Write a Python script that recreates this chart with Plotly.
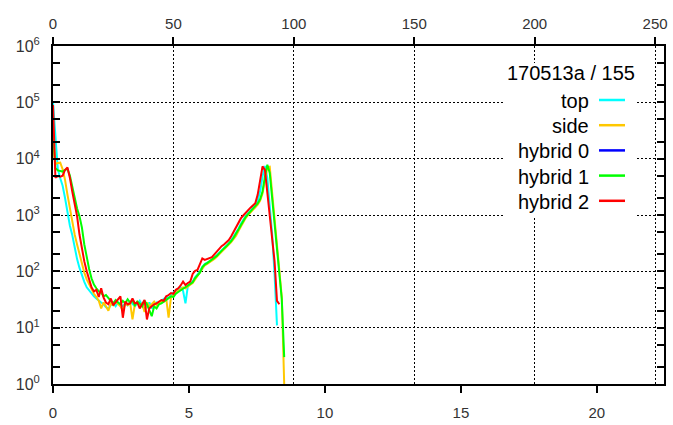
import plotly.graph_objects as go

# Channel-to-energy scale shared by the two x axes
ENERGY_PER_CHANNEL = 22.47 / 253.7
CHANNEL_MAX = 253.7

run_label = "170513a / 155"

series_names = ["top", "side", "hybrid 0", "hybrid 1", "hybrid 2"]
series_colors = ["#00FFFF", "#FFC800", "#0000FF", "#00FF00", "#FF0000"]

# Counts per channel (channel index = list position)
top_counts = [
    100000, 20000, 6500, 4500, 3300, 2000, 1100, 650, 440, 260,
    165, 115, 82, 65, 52, 46, 40, 36, 33, 30,
    28, 26, 23, 22, 25, 27, 24, 28, 26, 24,
    27, 25, 29, 26, 24, 27, 30, 25, 21, 24,
    28, 22, 26, 28, 27, 30, 32, 35, 34, 37,
    42, 45, 48, 52, 45, 27, 55, 60, 66, 78,
    88, 100, 120, 135, 142, 150, 160, 175, 192, 215,
    240, 262, 285, 315, 355, 410, 470, 570, 700, 830,
    960, 1080, 1200, 1330, 1480, 1800, 2600, 4800, 7400, 4500,
    1600, 450, 90, 11,
]

side_counts = [
    20000, 8000, 8400, 8500, 6500, 4200, 2300, 1300, 800, 450,
    300, 200, 130, 95, 72, 58, 48, 40, 35, 30,
    22, 28, 24, 20, 27, 25, 29, 26, 24, 20,
    27, 25, 28, 14, 26, 29, 25, 27, 19, 28,
    24, 26, 29, 25, 28, 30, 29, 33, 15, 35,
    38, 42, 45, 48, 52, 50, 55, 58, 62, 72,
    82, 92, 112, 128, 136, 145, 153, 166, 182, 200,
    225, 245, 268, 295, 330, 375, 430, 520, 630, 760,
    880, 1000, 1120, 1240, 1370, 1520, 1800, 2400, 4200, 7000,
    7200, 2600, 950, 320, 110, 35, 1,
]

hybrid0_counts = []

hybrid1_counts = [
    30000, 6800, 6200, 6000, 5900, 6300, 6600, 5000, 3200, 2000,
    1300, 950, 600, 300, 170, 110, 75, 58, 50, 44,
    42, 36, 38, 33, 30, 27, 31, 28, 26, 30,
    27, 32, 28, 30, 25, 29, 27, 24, 30, 26,
    20, 16, 24, 22, 26, 27, 29, 31, 33, 36,
    35, 40, 43, 46, 50, 53, 57, 60, 64, 76,
    85, 95, 118, 132, 140, 150, 158, 172, 188, 208,
    235, 255, 278, 305, 345, 395, 455, 550, 660, 790,
    920, 1040, 1170, 1290, 1420, 1600, 1900, 2600, 4800, 7800,
    5600, 1900, 700, 240, 80, 32, 3,
]

hybrid2_counts = [
    90000, 4600, 4900, 4800, 5000, 6300, 7000, 4600, 2600, 1500,
    950, 450, 250, 150, 100, 68, 52, 44, 47, 35,
    50, 34, 28, 26, 33, 25, 28, 31, 36, 15,
    29, 26, 27, 33, 27, 28, 22, 26, 31, 14,
    22, 24, 26, 27, 29, 31, 30, 36, 38, 41,
    40, 47, 50, 56, 66, 57, 62, 66, 90, 102,
    106, 140, 170, 160, 165, 172, 178, 200, 225, 260,
    280, 300, 330, 360, 420, 510, 600, 720, 870, 980,
    1100, 1200, 1350, 1480, 1620, 2300, 4200, 7300, 6300, 2600,
    950, 400, 150, 30, 26,
]

series_counts = [top_counts, side_counts, hybrid0_counts, hybrid1_counts, hybrid2_counts]

energy_ticks = [0, 5, 10, 15, 20]
channel_ticks = [0, 50, 100, 150, 200, 250]
count_ticks = [1, 10, 100, 1000, 10000, 100000, 1000000]
count_tick_labels = ["10<sup>%d</sup>" % k for k in range(7)]
count_minor_ticks = [m * 10 ** k for k in range(6) for m in (2, 5)]

fig = go.Figure()
for name, color, counts in zip(series_names, series_colors, series_counts):
    channels = list(range(len(counts)))
    fig.add_trace(go.Scatter(
        x=[c * ENERGY_PER_CHANNEL for c in channels], y=counts,
        xaxis="x", yaxis="y",
        mode="lines", name=name,
        line=dict(color=color, width=2),
        showlegend=False,
    ))
# channel scale along the top edge
fig.add_trace(go.Scatter(x=[], y=[], xaxis="x2", yaxis="y", mode="lines",
                         showlegend=False, hoverinfo="skip"))

W, H = 673, 425
ML, MR, MT, MB = 53, 9, 46, 41
PW, PH = W - ML - MR, H - MT - MB


def px_x(px):
    return (px - ML) / PW


def px_y(py):
    return (MT + PH - py) / PH


tick_font = dict(family="Arial, Liberation Sans, sans-serif", size=15, color="#333333")
text_font = dict(family="Arial, Liberation Sans, sans-serif", size=20, color="#000000")

shapes = [
    # white panel behind the key
    dict(type="rect", xref="paper", yref="paper",
         x0=px_x(503), x1=px_x(635), y0=px_y(218), y1=px_y(63),
         fillcolor="white", line=dict(width=0), layer="above"),
]
annotations = [
    dict(text=run_label, xref="paper", yref="paper",
         x=px_x(570.5), y=px_y(73), xanchor="center", yanchor="middle",
         showarrow=False, font=text_font),
]
for i, (name, color) in enumerate(zip(series_names, series_colors)):
    row_y = 100 + 25.2 * i
    annotations.append(dict(
        text=name, xref="paper", yref="paper",
        x=px_x(591), y=px_y(row_y + 1), xanchor="right", yanchor="middle",
        showarrow=False, font=text_font,
    ))
    shapes.append(dict(
        type="line", xref="paper", yref="paper",
        x0=px_x(599), x1=px_x(625), y0=px_y(row_y), y1=px_y(row_y),
        line=dict(color=color, width=2.5), layer="above",
    ))

fig.update_layout(
    width=W, height=H,
    margin=dict(l=ML, r=MR, t=MT, b=MB, pad=0, autoexpand=False),
    paper_bgcolor="white", plot_bgcolor="white",
    showlegend=False,
    xaxis=dict(
        range=[0, CHANNEL_MAX * ENERGY_PER_CHANNEL], automargin=False,
        tickmode="array", tickvals=energy_ticks,
        ticks="outside", ticklen=7, tickwidth=2, tickcolor="black",
        showline=True, linecolor="black", linewidth=2,
        showgrid=False, zeroline=False,
        tickfont=tick_font, ticklabelstandoff=7,
    ),
    xaxis2=dict(
        range=[0, CHANNEL_MAX], overlaying="x", side="top", automargin=False,
        tickmode="array", tickvals=channel_ticks,
        ticks="outside", ticklen=7, tickwidth=2, tickcolor="black",
        showline=True, linecolor="black", linewidth=2,
        showgrid=True, gridcolor="black", gridwidth=1, griddash="2px,2px",
        zeroline=False, tickfont=tick_font, ticklabelstandoff=2,
    ),
    yaxis=dict(
        type="log", range=[0, 6], automargin=False,
        tickmode="array", tickvals=count_ticks, ticktext=count_tick_labels,
        ticks="inside", ticklen=7, tickwidth=2, tickcolor="black",
        minor=dict(tickmode="array", tickvals=count_minor_ticks,
                   ticks="inside", ticklen=4, tickwidth=2, tickcolor="black",
                   showgrid=False),
        showline=True, linecolor="black", linewidth=2, mirror="allticks",
        showgrid=True, gridcolor="black", gridwidth=1, griddash="2px,2px",
        zeroline=False,
        tickfont=dict(family="Arial, Liberation Sans, sans-serif", size=16, color="#333333"),
        ticklabelstandoff=8,
    ),
    shapes=shapes,
    annotations=annotations,
)

fig.write_html("out.html")
